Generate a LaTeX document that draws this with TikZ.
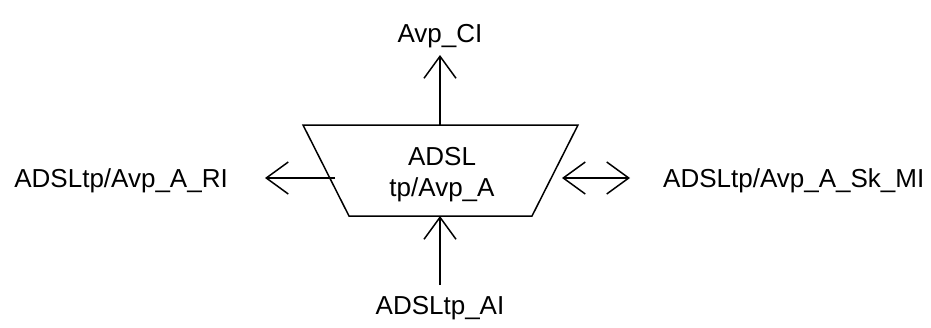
\documentclass[tikz,border=0pt]{standalone}
\usepackage{fontspec}
\setmainfont{Liberation Sans}
\usetikzlibrary{arrows.meta}
\tikzset{
  lbl/.style={inner sep=0pt, font=\fontsize{26}{31}\selectfont},
  sig/.style={line width=1.5pt, -{Straight Barb[length=22pt,width=32pt]}},
  bisig/.style={line width=1.5pt, {Straight Barb[length=22pt,width=32pt]}-{Straight Barb[length=22pt,width=32pt]}},
  blkline/.style={line width=1.5pt, line join=miter}
}

\begin{document}
\begin{tikzpicture}[x=1pt,y=-1pt]

\useasboundingbox (0,0) rectangle (931,327);

\draw[blkline] (303,125) -- (578,125) -- (532,216) -- (349,216) -- cycle;
\node[lbl, align=center, anchor=base] (blk) at (442,196) {ADSL\\tp/Avp\_A};

\coordinate (topmid) at (440,125);
\coordinate (botmid) at (440,216);
\coordinate (leftin) at (335,178);
\coordinate (rightin) at (562,178);

\coordinate (ciend) at (440,55);
\coordinate (aiend) at (440,285);
\coordinate (riend) at (265,178);
\coordinate (miend) at (630,178);

\node[lbl, anchor=base] (ci) at (440,42) {Avp\_CI};
\node[lbl, anchor=base] (ai) at (440,314) {ADSLtp\_AI};
\node[lbl, anchor=base east] (ri) at (228,187) {ADSLtp/Avp\_A\_RI};
\node[lbl, anchor=base west] (mi) at (663,187) {ADSLtp/Avp\_A\_Sk\_MI};

\draw[sig] (topmid) -- (ciend);
\draw[sig] (aiend) -- (botmid);
\draw[sig] (leftin) -- (riend);
\draw[bisig] (rightin) -- (miend);

\end{tikzpicture}
\end{document}
